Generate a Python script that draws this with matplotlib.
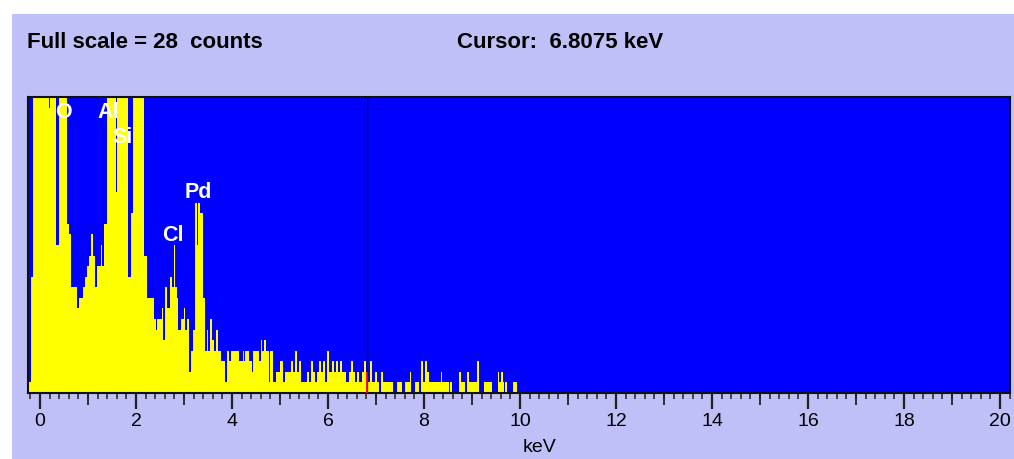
import numpy as np
import matplotlib.pyplot as plt
from matplotlib.patches import Rectangle
from matplotlib.ticker import MultipleLocator

plt.rcParams['font.family'] = ['Liberation Sans', 'DejaVu Sans']

full_scale = 28
cursor_kev = 6.8075

# spectrum as steps: start energy of each step (keV) and its counts
seg_start = [
    -0.229, -0.188, -0.146, 0.181, 0.208, 0.333, 0.402, 0.556, 0.610, 0.652,
    0.765, 0.806, 0.890, 0.931, 0.985, 1.027, 1.069, 1.098, 1.140, 1.194,
    1.265, 1.292, 1.333, 1.390, 1.583, 1.610, 1.833, 1.890, 1.938, 2.177,
    2.223, 2.375, 2.417, 2.444, 2.542, 2.569, 2.610, 2.652, 2.708, 2.750,
    2.792, 2.819, 2.848, 2.875, 2.944, 3.000, 3.027, 3.069, 3.098, 3.140,
    3.181, 3.223, 3.265, 3.292, 3.333, 3.390, 3.431, 3.473, 3.500, 3.542,
    3.583, 3.625, 3.667, 3.708, 3.777, 3.860, 3.890, 3.931, 3.973, 4.140,
    4.223, 4.250, 4.277, 4.348, 4.417, 4.444, 4.556, 4.598, 4.625, 4.667,
    4.708, 4.765, 4.792, 4.847, 4.917, 5.000, 5.056, 5.111, 5.222, 5.264,
    5.306, 5.347, 5.389, 5.431, 5.569, 5.611, 5.653, 5.694, 5.736, 5.777,
    5.819, 5.861, 5.903, 5.944, 5.986, 6.027, 6.083, 6.125, 6.167, 6.208,
    6.250, 6.292, 6.375, 6.431, 6.473, 6.514, 6.556, 6.611, 6.653, 6.708,
    6.750, 6.792, 6.833, 6.875, 6.917, 6.986, 7.027, 7.069, 7.111, 7.152,
    7.360, 7.431, 7.542, 7.611, 7.708, 7.736, 7.819, 7.889, 7.944, 7.986,
    8.014, 8.056, 8.098, 8.348, 8.375, 8.514, 8.542, 8.583, 8.736, 8.777,
    8.848, 8.890, 8.931, 9.111, 9.140, 9.250, 9.417, 9.542, 9.569, 9.611,
    9.640, 9.667, 9.694, 9.736, 9.848,
]
seg_counts = [
    1, 11, 28, 27, 28, 14, 28, 16, 15, 10,
    8, 9, 10, 11, 12, 13, 15, 13, 10, 12,
    14, 12, 16, 28, 19, 28, 11, 17, 28, 13,
    9, 7, 6, 7, 8, 5, 10, 8, 11, 10,
    14, 10, 9, 6, 7, 8, 6, 7, 2, 4,
    6, 18, 14, 18, 17, 9, 4, 6, 4, 7,
    5, 4, 6, 4, 3, 1, 4, 3, 4, 3,
    4, 3, 4, 3, 2, 4, 3, 5, 4, 5,
    4, 1, 4, 1, 2, 3, 1, 2, 3, 2,
    4, 2, 3, 1, 2, 1, 3, 2, 1, 2,
    3, 2, 3, 1, 4, 2, 3, 2, 3, 2,
    3, 2, 1, 2, 3, 2, 1, 2, 1, 2,
    3, 2, 1, 3, 1, 2, 1, 0, 2, 1,
    0, 1, 0, 1, 2, 0, 1, 0, 3, 1,
    3, 2, 1, 2, 1, 0, 1, 0, 2, 1,
    0, 2, 1, 3, 0, 1, 0, 2, 1, 2,
    1, 0, 1, 0, 1,
]
spectrum_end = 9.931

peak_names = ['O', 'Al', 'Si', 'Cl', 'Pd']
peak_kev = [0.48, 1.42, 1.71, 2.77, 3.29]
peak_height = [26.5, 26.5, 24.2, 14.9, 19.0]

fig = plt.figure(figsize=(10.14, 4.59), dpi=100)
fig.add_artist(Rectangle((12 / 1014, 0), 1, 445 / 459, transform=fig.transFigure,
                         facecolor='#c0c0f8', edgecolor='none', zorder=0))

ax = fig.add_axes([28 / 1014, 66 / 459, 982 / 1014, 296 / 459])
ax.set_facecolor('#0000ff')
ax.stairs(seg_counts, seg_start + [spectrum_end], fill=True, color='#ffff00', baseline=0)
ax.set_xlim(-0.25, 20.208)
ax.set_ylim(0, full_scale)

# cursor: black over background, red where it crosses the spectrum
idx = np.searchsorted(seg_start, cursor_kev) - 1
ax.axvline(cursor_kev, color='black', lw=0.9)
ax.vlines(cursor_kev, 0, seg_counts[idx], color='red', lw=1.3, zorder=5)

for name, xk, yk in zip(peak_names, peak_kev, peak_height):
    ax.text(xk, yk, name, color='white', fontsize=15.5, fontweight='bold',
            ha='center', va='center')

ax.set_yticks([])
ax.set_xticks(np.arange(0, 21, 2))
ax.set_xticklabels([str(v) for v in range(0, 21, 2)], fontsize=14)
ax.xaxis.set_minor_locator(MultipleLocator(0.2))
ax.tick_params(axis='x', which='major', length=11.5, width=1.6, pad=3, color='#202020')
ax.tick_params(axis='x', which='minor', length=4.5, width=1.1, color='#202020')
for s in ax.spines.values():
    s.set_linewidth(1.5)
    s.set_color('#101010')

sec = ax.secondary_xaxis('bottom')
sec.set_xticks(np.arange(1, 20, 2))
sec.set_xticklabels([])
sec.tick_params(length=8.5, width=1.3, color='#202020')
sec.spines['bottom'].set_visible(False)

fig.text(540 / 1014, 1 - 448 / 459, 'keV', ha='center', va='center', fontsize=14)
fig.text(27 / 1014, 1 - 42 / 459, f'Full scale = {full_scale}  counts',
         ha='left', va='center', fontsize=16, fontweight='bold')
fig.text(457 / 1014, 1 - 42 / 459, f'Cursor:  {cursor_kev:.4f} keV',
         ha='left', va='center', fontsize=16, fontweight='bold')

fig.savefig('out.png', dpi=100)
